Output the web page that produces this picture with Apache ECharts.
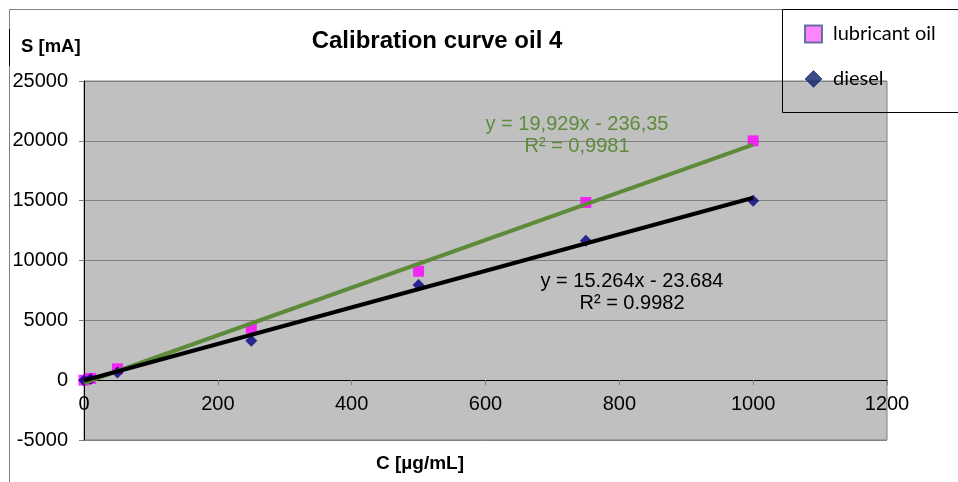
<!DOCTYPE html>
<html>
<head>
<meta charset="utf-8">
<script src="https://cdn.jsdelivr.net/npm/echarts@6/dist/echarts.min.js"></script>
<style>html,body{margin:0;padding:0;background:#fff}#c{width:958px;height:482px}</style>
</head>
<body>
<div id="c"></div>
<script>
// ---- data ----
const concentrations = [0, 10, 50, 250, 500, 750, 1000];
const lubricantOil   = [0, 150, 950, 4350, 9100, 14850, 20000];
const diesel         = [0, 100, 650, 3300, 7950, 11650, 15000];
const xTicks = [0, 200, 400, 600, 800, 1000, 1200];
const yTicks = [-5000, 0, 5000, 10000, 15000, 20000, 25000];
// trendline coefficients as printed on the chart
const lubricantFit = { slope: 19.929, intercept: -236.35, r2: '0,9981', label: 'y = 19,929x - 236,35' };
const dieselFit    = { slope: 15.264, intercept: -23.684, r2: '0.9982', label: 'y = 15.264x - 23.684' };
const fitRange = [0, 1000];

const pairs = (xs, ys) => xs.map((x, i) => [x, ys[i]]);
const fitLine = f => fitRange.map(x => [x, f.slope * x + f.intercept]);

const yMin = -5000, yMax = 25000;
const gridH = 359;
// x axis sits on y = 0
const xAxisOffset = -gridH * (0 - yMin) / (yMax - yMin);

const chart = echarts.init(document.getElementById('c'), null, { renderer: 'canvas' });
const F = 'Liberation Sans, Arial, sans-serif';
chart.setOption({
  animation: false,
  backgroundColor: '#fff',
  title: {
    text: 'Calibration curve oil 4',
    left: 432, top: 24, textAlign: 'center',
    textStyle: { fontFamily: F, fontWeight: 'bold', fontSize: 24, color: '#000' }
  },
  grid: {
    left: 84, top: 81, width: 803, height: gridH,
    show: true, backgroundColor: '#c0c0c0', borderColor: '#808080', borderWidth: 1
  },
  legend: {
    orient: 'vertical', left: 804, top: 24, padding: 0,
    itemWidth: 17, itemHeight: 17, itemGap: 25,
    textStyle: { fontFamily: 'Lato, sans-serif', fontSize: 20, lineHeight: 20, color: '#000', padding: [0, 0, 0, 6] },
    data: [
      { name: 'lubricant oil', icon: 'rect', itemStyle: { color: '#ff66ff', borderColor: '#3f5a8a', borderWidth: 2 } },
      { name: 'diesel', icon: 'diamond', itemStyle: { color: '#0a1f66', borderColor: '#2a4580', borderWidth: 1 } }
    ]
  },
  xAxis: {
    type: 'value', min: 0, max: 1200, interval: 200, offset: xAxisOffset,
    axisLine: { onZero: false, lineStyle: { color: '#000', width: 1 } },
    axisTick: { show: true, length: 5, lineStyle: { color: '#808080' } },
    axisLabel: { margin: 14, fontFamily: F, fontSize: 20, color: '#000',
      formatter: v => xTicks.includes(v) ? String(v) : '' },
    splitLine: { show: false }
  },
  yAxis: {
    type: 'value', min: yMin, max: yMax, interval: 5000,
    axisLine: { show: true, onZero: false, lineStyle: { color: '#000', width: 1 } },
    axisTick: { show: true, length: 5, lineStyle: { color: '#808080' } },
    axisLabel: { margin: 16, fontFamily: F, fontSize: 20, color: '#000',
      formatter: v => yTicks.includes(v) ? String(v) : '' },
    splitLine: { show: true, lineStyle: { color: '#808080', width: 1 } }
  },
  series: [
    { name: 'lubricant oil', type: 'scatter', symbol: 'rect', symbolSize: 11, z: 2,
      itemStyle: { color: '#ff00ff' }, data: pairs(concentrations, lubricantOil) },
    { name: 'diesel', type: 'scatter', symbol: 'diamond', symbolSize: 12, z: 2,
      itemStyle: { color: '#000080' }, data: pairs(concentrations, diesel) },
    { name: 'fit lubricant', type: 'line', showSymbol: false, symbol: 'none', z: 3,
      lineStyle: { color: '#5e8b3a', width: 4 }, data: fitLine(lubricantFit) },
    { name: 'fit diesel', type: 'line', showSymbol: false, symbol: 'none', z: 3,
      lineStyle: { color: '#000', width: 4 }, data: fitLine(dieselFit) }
  ],
  graphic: [
    { type: 'line', shape: { x1: 9.5, y1: 9.5, x2: 782, y2: 9.5 }, style: { stroke: '#808080', lineWidth: 1 } },
    { type: 'line', shape: { x1: 9.5, y1: 9.5, x2: 9.5, y2: 482 }, style: { stroke: '#808080', lineWidth: 1 } },
    { type: 'line', shape: { x1: 9.5, y1: 29, x2: 9.5, y2: 66 }, style: { stroke: '#000', lineWidth: 1 } },
    { type: 'rect', shape: { x: 782.5, y: 9.5, width: 200, height: 103 }, z: 5,
      style: { fill: 'rgba(255,255,255,0)', stroke: '#000', lineWidth: 1 } },
    { type: 'text', left: 21, top: 37,
      style: { text: 'S [mA]', font: 'bold 18.5px ' + F, fill: '#000' } },
    { type: 'text', x: 420, y: 464, style: { text: 'C [µg/mL]', font: 'bold 19px ' + F, fill: '#000', textAlign: 'center', textVerticalAlign: 'middle' } },
    { type: 'text', x: 577, y: 135, z: 10,
      style: { text: lubricantFit.label + '\nR² = ' + lubricantFit.r2, font: '20px ' + F, fill: '#5e8b3a',
        textAlign: 'center', textVerticalAlign: 'middle', lineHeight: 22 } },
    { type: 'text', x: 632, y: 292, z: 10,
      style: { text: dieselFit.label + '\nR² = ' + dieselFit.r2, font: '20px ' + F, fill: '#000',
        textAlign: 'center', textVerticalAlign: 'middle', lineHeight: 22 } }
  ]
});
</script>
</body>
</html>
